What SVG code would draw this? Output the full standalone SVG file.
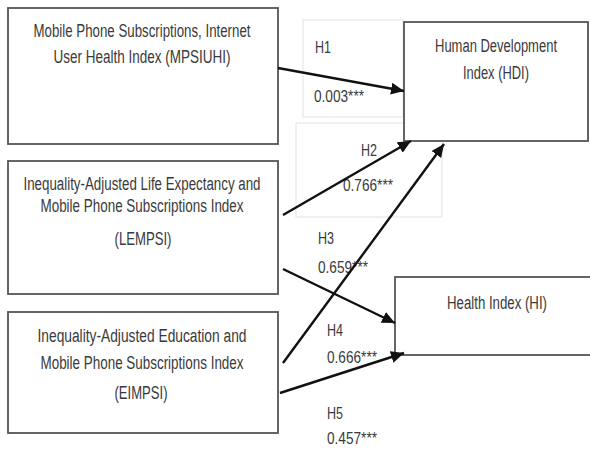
<svg xmlns="http://www.w3.org/2000/svg" width="590" height="450" viewBox="0 0 590 450">
<style>
.box{fill:#fff;stroke:#555;stroke-width:1.8}
.frame{fill:none;stroke:#e2e2e2;stroke-width:1}
text{font-family:"Liberation Sans",Arial,sans-serif;font-size:18px;fill:#3a3a3a}
.lab{font-size:16px}
.c{text-anchor:middle}
.conn line{stroke:#111;stroke-width:2.4;marker-end:url(#arr)}
</style>
<defs>
<marker id="arr" markerUnits="userSpaceOnUse" markerWidth="16" markerHeight="14" refX="13" refY="6" orient="auto">
<path d="M0,0 L13,6 L0,12 Z" fill="#111"/>
</marker>
</defs>
<rect width="590" height="450" fill="#fff"/>
<g id="frames">
<rect class="frame" x="303" y="20" width="100" height="97"/>
<rect class="frame" x="296" y="123" width="146" height="94"/>
</g>
<g id="n1">
<rect class="box" x="8" y="8" width="270" height="136"/>
<text class="c" x="142" y="37" textLength="217" lengthAdjust="spacingAndGlyphs">Mobile Phone Subscriptions, Internet</text>
<text class="c" x="142" y="63" textLength="177" lengthAdjust="spacingAndGlyphs">User Health Index (MPSIUHI)</text>
</g>
<g id="n2">
<rect class="box" x="8" y="161" width="270" height="133"/>
<text class="c" x="142" y="190" textLength="237" lengthAdjust="spacingAndGlyphs">Inequality-Adjusted  Life Expectancy and</text>
<text class="c" x="142" y="212" textLength="203" lengthAdjust="spacingAndGlyphs">Mobile Phone Subscriptions Index</text>
<text class="c" x="143" y="245" textLength="57" lengthAdjust="spacingAndGlyphs">(LEMPSI)</text>
</g>
<g id="n3">
<rect class="box" x="8" y="312" width="270" height="121"/>
<text class="c" x="142" y="342" textLength="209" lengthAdjust="spacingAndGlyphs">Inequality-Adjusted  Education and</text>
<text class="c" x="142" y="369" textLength="203" lengthAdjust="spacingAndGlyphs">Mobile Phone Subscriptions Index</text>
<text class="c" x="141" y="399" textLength="53" lengthAdjust="spacingAndGlyphs">(EIMPSI)</text>
</g>
<g id="hdi">
<rect class="box" x="404" y="22" width="184" height="119"/>
<text class="c" x="496" y="52" textLength="122" lengthAdjust="spacingAndGlyphs">Human Development</text>
<text class="c" x="496" y="79" textLength="66" lengthAdjust="spacingAndGlyphs">Index (HDI)</text>
</g>
<g id="hi">
<rect class="box" x="395" y="277" width="200" height="78"/>
<text class="c" x="497" y="309" textLength="100" lengthAdjust="spacingAndGlyphs">Health Index (HI)</text>
</g>
<g id="labels">
<text class="lab" x="315" y="53" textLength="16" lengthAdjust="spacingAndGlyphs">H1</text>
<text class="lab" x="314" y="102" textLength="50" lengthAdjust="spacingAndGlyphs">0.003***</text>
<text class="lab" x="361" y="156" textLength="16" lengthAdjust="spacingAndGlyphs">H2</text>
<text class="lab" x="343" y="191" textLength="50" lengthAdjust="spacingAndGlyphs">0.766***</text>
<text class="lab" x="318" y="244" textLength="16" lengthAdjust="spacingAndGlyphs">H3</text>
<text class="lab" x="318" y="273" textLength="50" lengthAdjust="spacingAndGlyphs">0.659***</text>
<text class="lab" x="327" y="336" textLength="16" lengthAdjust="spacingAndGlyphs">H4</text>
<text class="lab" x="327" y="363" textLength="50" lengthAdjust="spacingAndGlyphs">0.666***</text>
<text class="lab" x="327" y="419" textLength="16" lengthAdjust="spacingAndGlyphs">H5</text>
<text class="lab" x="327" y="444" textLength="50" lengthAdjust="spacingAndGlyphs">0.457***</text>
</g>
<g class="conn" id="connectors">
<line x1="278" y1="68" x2="404" y2="91"/>
<line x1="283" y1="215" x2="411" y2="141"/>
<line x1="283" y1="363" x2="444" y2="144"/>
<line x1="283" y1="269" x2="395" y2="323"/>
<line x1="280" y1="393" x2="404" y2="353"/>
</g>
</svg>
